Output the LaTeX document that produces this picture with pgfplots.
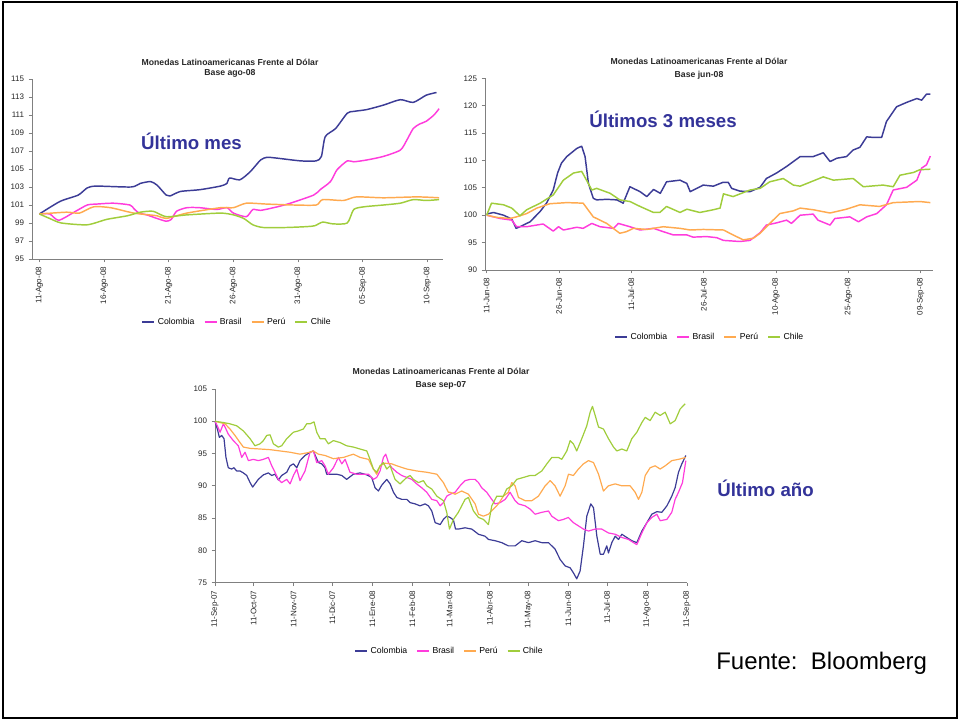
\documentclass[border=0pt]{standalone}
\usepackage{pgfplots}
\pgfplotsset{compat=1.18}
\usepackage{fontspec}
\setmainfont{Liberation Sans}
\definecolor{ccol}{RGB}{60,60,150}
\definecolor{cbra}{RGB}{255,60,220}
\definecolor{cper}{RGB}{255,170,80}
\definecolor{cchi}{RGB}{160,205,60}
\definecolor{cblue}{RGB}{51,51,153}
\definecolor{caxis}{RGB}{128,128,128}
\pgfplotsset{
  mystyle/.style={
    scale only axis,
    axis lines=left,
    axis line style={-, draw=caxis, line width=0.6pt},
    tick align=outside,
    major tick length=2.5pt,
    tick style={draw=caxis, line width=0.5pt},
    /pgf/number format/assume math mode=true,
    yticklabel style={font=\fontsize{6}{7}\selectfont, text=black!85},
    xticklabel style={font=\fontsize{6}{7}\selectfont, text=black!85, rotate=90, anchor=east},
    legend columns=4,
    legend style={draw=none, fill=none, font=\fontsize{6.5}{7}\selectfont, anchor=center,
      /tikz/every even column/.append style={column sep=5pt}},
    legend image code/.code={\draw[#1] (0pt,0pt) -- (9pt,0pt);},
    every axis plot/.append style={line width=1.1pt, line join=round},
    clip=false,
  }
}
\begin{document}
\begin{tikzpicture}[x=0.75pt,y=0.75pt]
\useasboundingbox (0,0) rectangle (960,720);
\draw[line width=1.6pt] (3,2) rectangle (957,718);

% ---------- Top-left ----------
\begin{axis}[mystyle, at={(24pt,345.75pt)}, anchor=south west, width=308.25pt, height=135pt,
  xmin=-0.57, xmax=31.2, ymin=95, ymax=115, ytick={95,97,...,115},
  xtick={0,5,10,15,20,25,30},
  xticklabels={11-Ago-08,16-Ago-08,21-Ago-08,26-Ago-08,31-Ago-08,05-Sep-08,10-Sep-08},
  legend style={at={(0.5,-0.35)}}]
\addplot[ccol, smooth, tension=0.4] coordinates {(0,100.0)(1.6,101.4)(3,102.1)(3.7,102.9)(4.4,103.1)(7.1,103.0)(7.8,103.4)(8.6,103.6)(9.1,103.2)(9.8,102.1)(10.1,102.0)(10.9,102.5)(12.4,102.7)(14,103.1)(14.5,103.4)(14.7,104.0)(15.5,103.8)(16.3,104.7)(17.1,106.0)(17.6,106.3)(18.4,106.2)(20.2,105.9)(21.4,105.9)(21.8,106.4)(22.1,108.6)(22.9,109.5)(23.8,111.2)(24.3,111.4)(25.3,111.6)(26.6,112.1)(27.9,112.7)(28.9,112.4)(29.9,113.2)(30.7,113.5)};
\addlegendentry{Colombia}
\addplot[cbra, smooth, tension=0.4] coordinates {(0,100)(0.8,100.0)(1.5,99.3)(2.8,100.3)(3.7,101.0)(4.4,101.1)(5.7,101.2)(7,101.0)(7.3,100.6)(7.7,100.1)(8.3,99.9)(9.1,99.5)(9.8,99.2)(10.2,99.4)(10.6,100.3)(11.4,100.7)(12.4,100.7)(13.7,100.5)(14.5,100.7)(15,100.1)(16,99.7)(16.5,100.5)(17.1,100.4)(18.4,100.8)(19.4,101.2)(21.2,102.1)(21.7,102.7)(22.5,103.6)(23,104.9)(23.8,105.9)(24.3,105.8)(25.3,106.0)(26.6,106.4)(27.9,107.1)(28.4,108.2)(28.9,109.5)(29.4,110.0)(29.9,110.3)(30.5,111.0)(30.9,111.7)};
\addlegendentry{Brasil}
\addplot[cper, smooth, tension=0.4] coordinates {(0,100)(2.1,100.2)(3.1,100.1)(4.2,100.8)(5.5,100.7)(7.3,100.1)(9.1,99.8)(9.8,99.5)(11.4,100.1)(14,100.7)(15,100.7)(16,101.2)(17.6,101.1)(19.6,101.0)(21.4,101.0)(21.9,101.6)(23.5,101.5)(24.5,101.9)(26.6,101.8)(29.2,101.9)(30.9,101.8)};
\addlegendentry{Perú}
\addplot[cchi, smooth, tension=0.4] coordinates {(0,100)(0.8,99.5)(1.7,99.0)(3.7,98.8)(5.2,99.4)(6.8,99.8)(7.8,100.2)(8.8,100.3)(9.8,99.7)(11.4,99.9)(14,100.1)(15,99.9)(15.8,99.5)(16.5,98.8)(17.3,98.5)(19.1,98.5)(20.7,98.6)(21.3,98.7)(21.9,99.1)(22.7,98.9)(23.8,99.0)(24.3,100.5)(25.1,100.8)(26.6,101.0)(27.9,101.2)(28.9,101.6)(29.9,101.5)(30.9,101.6)};
\addlegendentry{Chile}
\end{axis}

% ---------- Top-right ----------
\begin{axis}[mystyle, at={(363.75pt,337.5pt)}, anchor=south west, width=335.8pt, height=143.8pt,
  xmin=-0.35, xmax=92.5, ymin=90, ymax=125, ytick={90,95,...,125},
  xtick={0,15,30,45,60,75,90},
  xticklabels={11-Jun-08,26-Jun-08,11-Jul-08,26-Jul-08,10-Ago-08,25-Ago-08,09-Sep-08},
  legend style={at={(0.503,-0.35)}}]
\addplot[ccol] coordinates {(0,100.2)(1.4,100.5)(3.5,100.0)(5.2,99.3)(6.1,97.6)(6.9,97.9)(9,98.8)(11.1,100.7)(12.4,102.2)(13.8,104.6)(14.7,107.7)(15.5,109.5)(16.6,110.7)(18.7,112.2)(19.7,112.6)(20.4,110.7)(21.1,105.8)(22.1,103.1)(22.8,102.8)(24.9,102.9)(27,102.8)(28.3,102.2)(29.7,105.2)(31.8,104.3)(33.2,103.4)(34.6,104.7)(36,104.0)(37.3,106.1)(40.1,106.4)(41.5,105.8)(42.2,104.3)(44.9,105.5)(47,105.3)(49,106.0)(50.1,106.0)(50.8,104.9)(52.5,104.4)(54.6,104.3)(56.7,105.1)(58,106.7)(60.1,107.7)(62.2,108.9)(65,110.7)(67.7,110.7)(69.8,111.4)(71.2,109.8)(72.6,110.4)(74.6,110.7)(76,111.9)(77.4,112.4)(78.8,114.3)(80.2,114.2)(81.9,114.2)(82.9,117.1)(85,119.8)(87.1,120.6)(89.2,121.3)(90.2,121.0)(91.2,122.1)(92,122.1)};
\addlegendentry{Colombia}
\addplot[cbra] coordinates {(0,100)(2.8,99.4)(5.2,99.1)(6.2,97.9)(8.3,97.9)(11.7,98.4)(13.8,97.1)(14.9,97.9)(15.9,97.3)(18.7,97.8)(20,97.6)(21.8,98.5)(23.5,97.9)(26.3,97.6)(27.3,98.5)(29.7,97.9)(31.8,97.3)(34.6,97.6)(36.6,97.0)(38.7,96.4)(41.5,96.4)(42.8,96.0)(45.6,96.1)(47.7,95.9)(49.1,95.4)(52.5,95.2)(54.6,95.4)(56.7,96.8)(58,98.2)(60.1,98.6)(62.2,99.1)(63.2,98.5)(65,100.0)(67.7,100.2)(68.7,99.1)(71.2,98.2)(72.2,99.4)(75.3,99.7)(77.1,98.8)(78.8,99.7)(80.9,100.3)(82.9,101.9)(84.3,104.6)(87.1,105.1)(89.2,106.4)(90.2,108.6)(91.2,109.2)(92,110.8)};
\addlegendentry{Brasil}
\addplot[cper] coordinates {(0,100)(2.1,99.6)(4.8,99.4)(6.2,99.7)(8.3,100.3)(10.4,101.3)(13.1,102.1)(16.6,102.3)(20,102.2)(22.1,99.7)(24.9,98.5)(27.6,96.7)(29,97.0)(30.4,97.6)(33.2,97.4)(36.6,97.9)(40.1,97.6)(42.2,97.3)(44.9,97.4)(49.1,97.3)(51.1,96.4)(53.2,95.5)(55.3,95.8)(56.7,96.7)(58.7,98.5)(60.8,100.3)(63.6,100.8)(65,101.3)(67.7,101.0)(71.2,100.4)(74.6,101.1)(77.4,101.9)(81.5,101.6)(84.3,102.3)(89.8,102.5)(92,102.3)};
\addlegendentry{Perú}
\addplot[cchi] coordinates {(0,100)(1,102.2)(3.5,101.9)(5.2,101.3)(6.9,99.9)(8.3,101.0)(11.1,102.2)(13.8,103.7)(15.9,106.4)(18,107.7)(19.7,108.0)(20.7,106.4)(21.8,104.6)(22.8,104.9)(25.6,104.0)(27.6,102.8)(29.7,102.5)(31.8,101.6)(34.6,100.5)(35.9,100.5)(37.3,101.6)(40.1,100.5)(41.5,101.1)(44.2,100.5)(47,101.0)(48.4,101.3)(49.1,103.9)(51.1,103.4)(54.6,104.6)(56.7,104.9)(58.7,106.1)(61.5,106.7)(63.6,105.5)(65,105.3)(69.8,107.0)(71.9,106.4)(76,106.7)(78.1,105.2)(82.2,105.5)(84.3,105.2)(85.7,107.3)(88.5,107.8)(89.8,108.3)(92,108.4)};
\addlegendentry{Chile}
\end{axis}

% ---------- Bottom ----------
\begin{axis}[mystyle, at={(161.25pt,102.98pt)}, anchor=south west, width=354pt, height=145.3pt,
  xmin=0, xmax=366, ymin=75, ymax=105, ytick={75,80,...,105},
  xtick={0,30,61,91,122,153,182,213,243,274,304,335,366},
  xticklabels={11-Sep-07,11-Oct-07,11-Nov-07,11-Dic-07,11-Ene-08,11-Feb-08,11-Mar-08,11-Abr-08,11-May-08,11-Jun-08,11-Jul-08,11-Ago-08,11-Sep-08},
  legend style={at={(0.498,-0.353)}},
  every axis plot/.append style={line width=0.9pt}]
\addplot[ccol] coordinates {(0,100)(1.8,98.8)(3.4,97.5)(5.2,97.8)(7,97.3)(8.5,94.4)(10.3,92.8)(12.9,92.6)(14.7,92.8)(16.8,92.3)(19.4,92.3)(22,92.0)(24.6,91.6)(27.2,90.5)(29.2,89.8)(31,90.3)(33.6,91.0)(37.5,91.7)(41.4,92.0)(44,91.6)(46.5,91.8)(49.1,90.9)(51.7,91.6)(55.6,92.1)(58.2,93.1)(60.8,93.4)(63.4,92.8)(65.9,93.9)(69.8,94.7)(73.7,95.2)(76.3,95.4)(78.4,94.4)(80.2,93.6)(82.8,93.4)(85.3,92.8)(86.6,91.8)(90.5,91.8)(94.4,91.8)(98.3,91.6)(102.1,91.0)(107.3,91.8)(112.5,92.0)(117.7,91.7)(121.5,91.3)(124.1,89.7)(126.7,89.2)(129.3,90.1)(133.2,91.0)(135.8,90.3)(138.4,89.0)(141,88.2)(144.8,87.9)(148.7,87.9)(151.3,87.4)(155.2,87.2)(159,86.9)(162.9,87.2)(165.5,86.9)(168.1,86.1)(170.7,84.3)(174.6,84.0)(177.1,84.8)(179.7,85.3)(182.3,85.1)(184.9,84.7)(186.5,83.3)(188.7,83.3)(193.9,83.5)(199.1,83.3)(204.3,82.5)(209.4,82.2)(212,81.7)(217.2,81.5)(222.4,81.2)(227.5,80.7)(232.7,80.7)(237.9,81.5)(243.1,81.2)(248.2,81.5)(253.4,81.2)(258.6,81.2)(263.7,80.2)(267.6,78.6)(271.5,77.6)(275.4,77.3)(278,76.5)(280.5,75.6)(283.1,76.8)(285.7,80.7)(288.3,85.3)(291.4,87.2)(293.5,86.6)(296.1,82.2)(298.7,79.4)(301.2,79.4)(303.8,80.7)(305.1,79.6)(307.7,81.2)(310.3,82.2)(312.9,81.7)(315.5,82.5)(319.3,82.0)(323.2,81.5)(327.1,81.2)(331,83.0)(334.9,84.3)(338.7,85.6)(342.6,86.0)(346.5,85.9)(350.4,86.9)(354.2,88.4)(356.8,89.7)(359.4,92.1)(362,93.4)(365.1,94.7)};
\addlegendentry{Colombia}
\addplot[cbra] coordinates {(0,100)(1.8,99.3)(3.9,98.3)(6.5,99.6)(7.8,99.1)(10.3,98.0)(14.2,97.0)(18.1,96.2)(20.7,94.4)(23.3,95.2)(25.9,93.9)(29.7,94.1)(33.6,93.9)(37.5,94.1)(41.4,94.4)(44,93.1)(46.5,92.1)(49.1,91.0)(51.7,90.5)(55.6,91.0)(58.2,90.3)(60.8,91.6)(63.4,92.6)(65.9,90.8)(69.8,92.3)(73.7,95.2)(76.3,95.4)(78.9,93.6)(82.8,93.9)(85.3,93.1)(87.9,91.8)(91.8,92.8)(95.7,94.4)(98.3,93.4)(100.9,94.1)(104.7,92.1)(109.9,91.8)(115.1,91.8)(119,91.8)(122.8,91.0)(125.4,91.3)(128,92.3)(130.6,94.4)(132.4,94.9)(134.5,93.6)(137.1,92.8)(141,92.1)(144.8,91.6)(148.7,91.3)(152.6,91.0)(156.4,90.3)(160.3,89.7)(164.2,89.0)(168.1,87.9)(172,87.7)(174.6,86.9)(177.1,87.4)(179.7,88.4)(182.3,88.7)(186.2,89.0)(190,90.0)(193.9,90.8)(197.8,91.0)(201.7,91.0)(204.3,90.5)(206.8,89.7)(210.7,89.0)(214.6,87.9)(217.2,87.2)(221.1,87.4)(225,87.9)(228.8,89.0)(232.7,87.7)(235.3,87.2)(240.5,86.9)(244.3,86.4)(248.2,85.6)(253.4,85.9)(258.6,86.1)(261.1,85.3)(266.3,84.6)(270.2,84.8)(274,85.1)(277.9,84.3)(281.8,83.8)(285.7,83.3)(289.6,83.0)(294.8,83.3)(299.9,83.3)(305.1,82.7)(310.3,82.5)(315.5,82.0)(320.6,81.7)(324.5,81.2)(327.1,80.9)(331,82.7)(334.9,84.3)(338.7,85.1)(342.6,85.6)(345.2,84.6)(350.4,84.8)(354.2,85.9)(356.8,87.9)(359.4,89.0)(362.5,90.5)(365.1,93.9)};
\addlegendentry{Brasil}
\addplot[cper] coordinates {(0,100)(3.9,99.8)(7.8,99.6)(11.6,98.8)(15.5,97.8)(19.4,96.7)(22,96.0)(27.2,95.8)(34.9,95.7)(42.7,95.6)(50.4,95.4)(58.2,95.2)(65.9,94.9)(73.7,95.2)(76.3,95.4)(80.2,94.9)(85.3,94.7)(91.8,94.2)(99.6,94.4)(107.3,94.9)(112.5,94.4)(119,94.1)(122.8,92.6)(125.4,91.8)(128,93.1)(131.9,93.5)(137.1,93.4)(141,93.1)(148.7,92.6)(156.4,92.3)(164.2,92.1)(172,91.8)(177.1,90.5)(181,89.0)(182.3,89.0)(186.2,88.7)(191.3,89.2)(196.5,88.7)(201.7,87.2)(204.3,85.6)(208.1,85.3)(212,85.6)(215.9,86.4)(219.8,87.2)(223.6,88.4)(227.5,89.0)(230.1,90.5)(232.7,90.0)(235.3,88.2)(240.5,87.7)(245.7,87.7)(250.8,88.4)(256,90.0)(259.9,90.8)(263.7,90.0)(267.6,88.4)(271.5,90.0)(274.1,91.8)(277.9,91.6)(281.8,92.6)(285.7,93.4)(289.6,93.9)(293.5,93.6)(297.4,91.8)(301.2,89.2)(305.1,90.0)(310.3,90.3)(315.5,90.0)(321.9,90.0)(325.8,89.0)(328.4,87.9)(331,89.0)(333.6,91.6)(337.4,92.8)(341.3,93.1)(345.2,92.6)(349.1,93.1)(354.2,93.9)(359.4,94.1)(365.1,94.4)};
\addlegendentry{Perú}
\addplot[cchi] coordinates {(0,100)(6.5,99.8)(11.6,99.6)(16.8,99.3)(22,98.5)(27.2,97.3)(31,96.2)(34.9,96.5)(37.5,97.0)(40.1,97.8)(42.7,97.9)(45.3,96.5)(49.1,96.0)(51.7,96.2)(55.6,97.3)(60.8,98.3)(64.6,98.5)(68.5,98.8)(71.1,99.6)(73.7,99.6)(76.8,99.9)(78.9,98.3)(81.5,97.3)(85.3,97.3)(87.9,96.5)(91.8,97.0)(97,96.7)(102.1,96.2)(107.3,96.0)(112.5,95.7)(117.7,95.4)(120.2,94.1)(122.8,92.6)(125.4,92.1)(128,93.1)(130.6,93.6)(133.2,92.6)(135.8,93.1)(139.6,91.0)(143.5,90.3)(148.7,91.3)(151.3,91.6)(153.8,91.0)(157.7,90.5)(161.6,90.8)(164.2,90.0)(168.1,89.5)(172,88.4)(177.1,87.7)(179.7,85.9)(181.8,83.3)(184.9,84.8)(188.7,85.9)(193.9,87.9)(196.5,88.2)(200.4,86.1)(204.3,85.1)(208.1,84.8)(212,84.0)(214.6,86.9)(218.5,88.4)(223.6,88.4)(226.2,89.5)(230.1,90.0)(234,91.0)(239.2,91.3)(244.3,91.6)(248.2,91.6)(253.4,92.3)(257.3,93.4)(261.2,94.4)(266.3,94.4)(268.9,94.1)(272.8,95.4)(275.4,97.0)(277.9,96.5)(280.5,95.4)(284.4,97.3)(288.3,99.3)(290.9,101.4)(292.7,102.3)(294.8,100.9)(297.4,99.1)(301.2,98.8)(305.1,97.3)(309,96.0)(311.6,95.4)(315.5,95.7)(319.3,95.4)(323.2,97.3)(327.1,98.3)(331,99.8)(333.6,100.6)(337.4,100.1)(341.3,101.4)(345.2,100.9)(349.1,101.4)(353,99.6)(356.8,100.1)(360.7,101.9)(364.6,102.7)};
\addlegendentry{Chile}
\end{axis}

% ---------- Titles and notes ----------
\tikzset{ttl/.style={font=\bfseries\fontsize{6.5}{7}\selectfont, text=black!85, inner sep=0pt}}
\node[ttl] at (230,657.7) {Monedas Latinoamericanas Frente al Dólar};
\node[ttl] at (230,646.7) {Base ago-08};
\node[ttl] at (699,658.3) {Monedas Latinoamericanas Frente al Dólar};
\node[ttl] at (699,645) {Base jun-08};
\node[ttl] at (441,349) {Monedas Latinoamericanas Frente al Dólar};
\node[ttl] at (441,335) {Base sep-07};
\tikzset{note/.style={font=\bfseries\fontsize{14}{16}\selectfont, text=cblue, inner sep=0pt, anchor=base}}
\node[note] at (191.5,570) {Último mes};
\node[note] at (663,592) {Últimos 3 meses};
\node[note] at (765.5,223) {Último año};
\node[font=\fontsize{18}{20}\selectfont, inner sep=0pt, anchor=base west] at (716,50) {Fuente:\ \ Bloomberg};
\end{tikzpicture}
\end{document}
